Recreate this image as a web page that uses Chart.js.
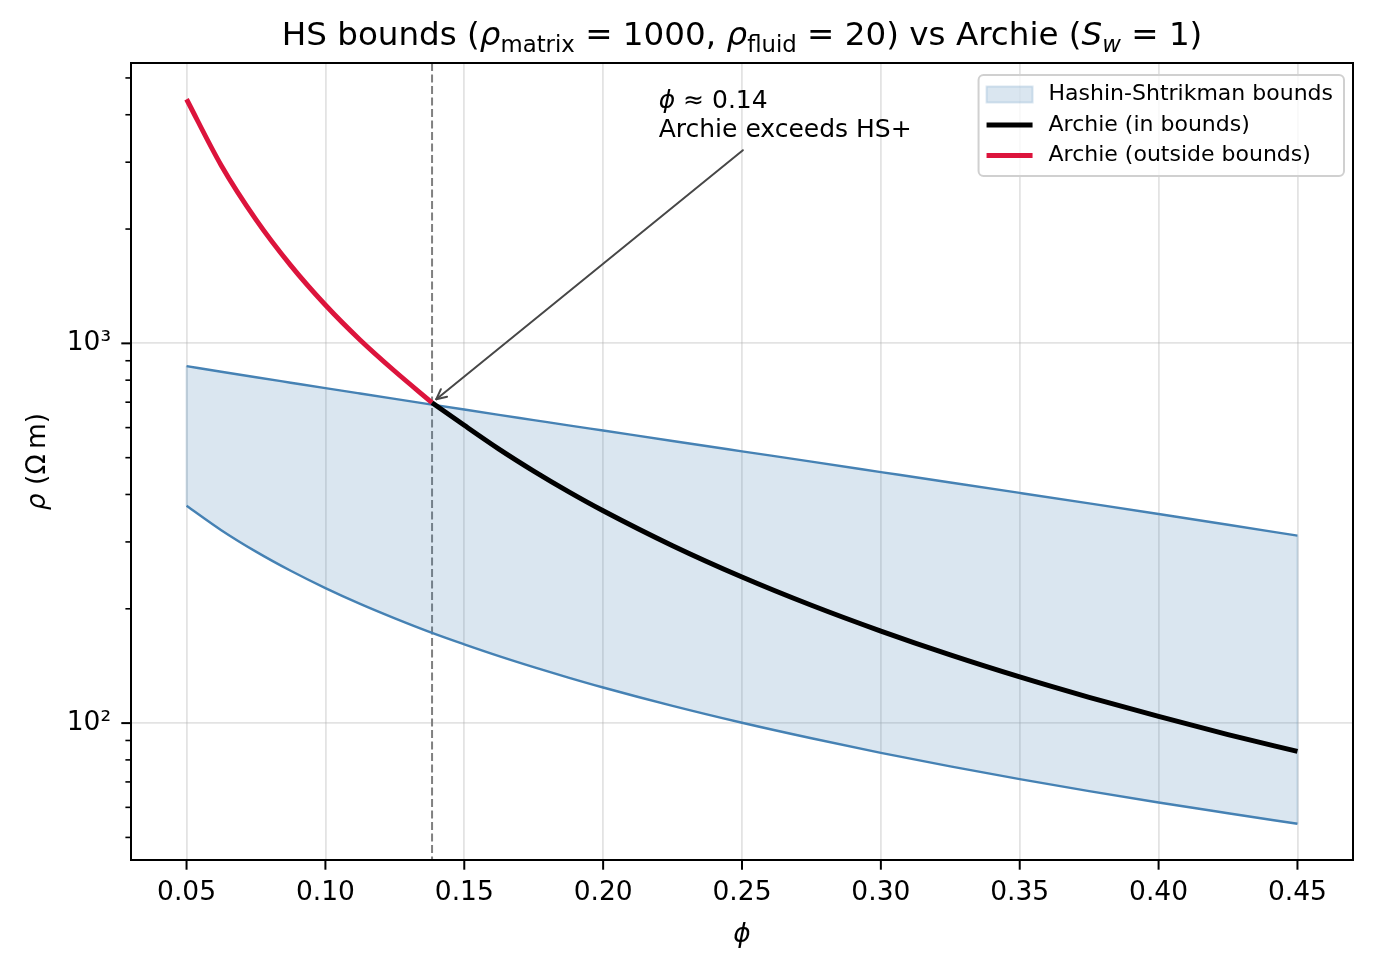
<!DOCTYPE html>
<html>
<head>
<meta charset="utf-8">
<script src="https://cdn.jsdelivr.net/npm/chart.js@4.4.1/dist/chart.umd.min.js"></script>
<style>
  html, body { margin: 0; padding: 0; background: #fff; }
  #wrap { width: 1374px; height: 971px; }
</style>
</head>
<body>
<div id="wrap"><canvas id="grafico" width="1374" height="971"></canvas></div>
<script>
// porosity grid and resistivities (ohm.m)
const phi = [0.05, 0.0625, 0.075, 0.0875, 0.1, 0.1125, 0.125, 0.1384, 0.15, 0.1625, 0.175, 0.1875, 0.2, 0.225, 0.25, 0.275, 0.3, 0.325, 0.35, 0.375, 0.4, 0.425, 0.45];
const hsUpper = [870.8, 841.9, 814.2, 787.7, 762.1, 737.6, 714.0, 689.7, 669.4, 648.3, 628.0, 608.3, 589.4, 553.3, 519.6, 488.0, 458.2, 430.2, 403.8, 378.9, 355.3, 332.9, 311.7];
const hsLower = [373.5, 322.1, 282.8, 251.8, 226.7, 206.0, 188.7, 172.8, 161.2, 150.1, 140.4, 131.8, 124.1, 111.0, 100.2, 91.2, 83.5, 76.9, 71.2, 66.2, 61.8, 57.9, 54.3];
const archie = [4394, 2941, 2118, 1605, 1262, 1021, 844.5, 698, 608.2, 526.6, 460.9, 407.0, 362.4, 293.2, 242.5, 204.3, 174.7, 151.2, 132.3, 116.9, 104.1, 93.3, 84.2];
const phiCross = 0.1384;

const xTicks = [0.05, 0.10, 0.15, 0.20, 0.25, 0.30, 0.35, 0.40, 0.45];
const yTicks = [50, 60, 70, 80, 90, 100, 200, 300, 400, 500, 600, 700, 800, 900, 1000, 2000, 3000, 4000, 5000];
const yMajor = [100, 1000];
const yMajorLabels = ['10²', '10³'];

const legendLabels = ['Hashin-Shtrikman bounds', 'Archie (in bounds)', 'Archie (outside bounds)'];
const annotationText = ['≈ 0.14', 'Archie exceeds HS+'];
const annotationAt = { phi: 0.22, rho: 3500 };

const FAMILY = "'DejaVu Sans'";
const STEEL = '#4682b4';
const FILL = 'rgba(70, 130, 180, 0.2)';
const CRIMSON = '#dc143c';
const GRID = 'rgba(176, 176, 176, 0.35)';

function fonte(size, italic) {
  return (italic ? 'italic ' : '') + size + 'px ' + FAMILY;
}

// draws pieces of text side by side (used for subscripts in the title)
function desenharTrechos(ctx, trechos, x, y, align) {
  let total = 0;
  trechos.forEach(t => {
    ctx.font = fonte(t.s, t.i);
    t.w = ctx.measureText(t.t).width;
    total += t.w;
  });
  let cx = align === 'center' ? x - total / 2 : x;
  ctx.textAlign = 'left';
  ctx.textBaseline = 'alphabetic';
  trechos.forEach(t => {
    ctx.font = fonte(t.s, t.i);
    ctx.fillText(t.t, cx, y + (t.dy || 0));
    cx += t.w;
  });
  return total;
}

function linha(ctx, x1, y1, x2, y2) {
  ctx.beginPath();
  ctx.moveTo(x1, y1);
  ctx.lineTo(x2, y2);
  ctx.stroke();
}

const pontos = (ys) => phi.map((x, i) => ({ x: x, y: ys[i] }));
const foraLimites = phi.map((x, i) => ({ x: x, y: archie[i] })).filter(p => p.x <= phiCross);
const dentroLimites = phi.map((x, i) => ({ x: x, y: archie[i] })).filter(p => p.x >= phiCross);

const extras = {
  id: 'extras',
  beforeDatasetsDraw(chart) {
    const ctx = chart.ctx;
    const area = chart.chartArea;
    const sx = chart.scales.x;
    const sy = chart.scales.y;
    ctx.save();
    // vertical edges of the filled band
    ctx.strokeStyle = FILL;
    ctx.lineWidth = 2;
    [0, phi.length - 1].forEach(i => {
      const px = sx.getPixelForValue(phi[i]);
      linha(ctx, px, sy.getPixelForValue(hsLower[i]), px, sy.getPixelForValue(hsUpper[i]));
    });
    // crossing marker
    ctx.strokeStyle = '#808080';
    ctx.lineWidth = 2;
    ctx.setLineDash([8, 3.5]);
    const xc = sx.getPixelForValue(phiCross);
    linha(ctx, xc, area.top, xc, area.bottom);
    ctx.restore();
  },
  afterDraw(chart) {
    const ctx = chart.ctx;
    const area = chart.chartArea;
    const sx = chart.scales.x;
    const sy = chart.scales.y;
    ctx.save();
    ctx.fillStyle = '#000';

    // title
    const T = 32.6, S = 22.8, D = 7.3;
    desenharTrechos(ctx, [
      { t: 'HS bounds (', s: T },
      { t: 'ρ', s: T, i: true },
      { t: 'matrix', s: S, dy: D },
      { t: ' = 1000, ', s: T },
      { t: 'ρ', s: T, i: true },
      { t: 'fluid', s: S, dy: D },
      { t: ' = 20) vs Archie (', s: T },
      { t: 'S', s: T, i: true },
      { t: 'w', s: S, i: true, dy: D },
      { t: ' = 1)', s: T }
    ], (area.left + area.right) / 2, 44.5, 'center');

    // axis labels
    desenharTrechos(ctx, [{ t: 'ϕ', s: 26.5, i: true }], (area.left + area.right) / 2, 942, 'center');
    ctx.save();
    ctx.translate(45, (area.top + area.bottom) / 2);
    ctx.rotate(-Math.PI / 2);
    desenharTrechos(ctx, [{ t: 'ρ', s: 26.5, i: true }, { t: ' (Ω\u2009m)', s: 26.5 }], 0, 0, 'center');
    ctx.restore();

    // annotation text + arrow
    const A = 25;
    const ax = sx.getPixelForValue(annotationAt.phi);
    const base2 = sy.getPixelForValue(annotationAt.rho);
    const base1 = base2 - 28.5;
    const w1 = desenharTrechos(ctx, [{ t: 'ϕ', s: A, i: true }, { t: ' ' + annotationText[0], s: A }], ax, base1, 'left');
    const w2 = desenharTrechos(ctx, [{ t: annotationText[1], s: A }], ax, base2, 'left');
    const box = { l: ax, r: ax + Math.max(w1, w2), t: base1 - 0.93 * A, b: base2 + 0.4 * A };
    const cx = (box.l + box.r) / 2, cy = (box.t + box.b) / 2;
    const tx = sx.getPixelForValue(phiCross);
    const ty = sy.getPixelForValue(dentroLimites[0].y);
    let dx = tx - cx, dy = ty - cy;
    const len = Math.hypot(dx, dy);
    dx /= len; dy /= len;
    const tEdge = Math.min(dx < 0 ? (box.l - cx) / dx : (box.r - cx) / dx, dy < 0 ? (box.t - cy) / dy : (box.b - cy) / dy);
    const x0 = cx + dx * (tEdge + 5.5), y0 = cy + dy * (tEdge + 5.5);
    const x1 = tx - dx * 5.5, y1 = ty - dy * 5.5;
    ctx.strokeStyle = '#474747';
    ctx.lineWidth = 2;
    ctx.lineCap = 'round';
    linha(ctx, x0, y0, x1, y1);
    const ang = Math.atan2(dy, dx);
    [0.46, -0.46].forEach(a => {
      linha(ctx, x1, y1, x1 - 11 * Math.cos(ang + a), y1 - 11 * Math.sin(ang + a));
    });

    // tick marks and frame
    ctx.strokeStyle = '#000';
    ctx.lineCap = 'butt';
    ctx.lineWidth = 2;
    xTicks.forEach(v => {
      const px = sx.getPixelForValue(v);
      linha(ctx, px, area.bottom, px, area.bottom + 9.7);
    });
    yTicks.forEach(v => {
      const py = sy.getPixelForValue(v);
      const maior = yMajor.includes(v);
      ctx.lineWidth = maior ? 2 : 1.6;
      linha(ctx, area.left, py, area.left - (maior ? 9.7 : 5.6), py);
    });
    ctx.lineWidth = 2;
    ctx.strokeRect(area.left, area.top, area.right - area.left, area.bottom - area.top);

    // legend
    const L = 22;
    ctx.font = fonte(L);
    const maxW = Math.max(...legendLabels.map(t => ctx.measureText(t).width));
    const lw = 8 + 46 + 16 + maxW + 11;
    const lx = area.right - 9 - lw, ly = area.top + 12, lh = 101;
    ctx.beginPath();
    ctx.roundRect(lx, ly, lw, lh, 5);
    ctx.fillStyle = 'rgba(255,255,255,0.8)';
    ctx.fill();
    ctx.strokeStyle = '#d0d0d0';
    ctx.lineWidth = 2;
    ctx.stroke();
    const estilos = [
      { tipo: 'patch' },
      { tipo: 'line', cor: chart.data.datasets[3].borderColor, w: chart.data.datasets[3].borderWidth },
      { tipo: 'line', cor: chart.data.datasets[2].borderColor, w: chart.data.datasets[2].borderWidth }
    ];
    estilos.forEach((e, i) => {
      const yc = ly + 19.5 + i * 30.5;
      const hx = lx + 8;
      if (e.tipo === 'patch') {
        ctx.fillStyle = FILL;
        ctx.fillRect(hx, yc - 8, 46, 16);
        ctx.strokeStyle = FILL;
        ctx.lineWidth = 2;
        ctx.strokeRect(hx, yc - 8, 46, 16);
      } else {
        ctx.strokeStyle = e.cor;
        ctx.lineWidth = e.w;
        linha(ctx, hx, yc, hx + 46, yc);
      }
      ctx.fillStyle = '#000';
      ctx.font = fonte(L);
      ctx.textAlign = 'left';
      ctx.textBaseline = 'middle';
      ctx.fillText(legendLabels[i], hx + 46 + 16, yc);
    });
    ctx.restore();
  }
};

Chart.defaults.font.family = FAMILY;
Chart.defaults.color = '#000';

new Chart(document.getElementById('grafico').getContext('2d'), {
  type: 'line',
  data: {
    datasets: [
      {
        label: legendLabels[0],
        data: pontos(hsUpper),
        borderColor: STEEL,
        borderWidth: 2.4,
        backgroundColor: FILL,
        fill: '+1',
        order: 2
      },
      {
        label: 'HS lower',
        data: pontos(hsLower),
        borderColor: STEEL,
        borderWidth: 2.4,
        fill: false,
        order: 3
      },
      {
        label: legendLabels[2],
        data: foraLimites,
        borderColor: CRIMSON,
        borderWidth: 4.9,
        fill: false,
        order: 1
      },
      {
        label: legendLabels[1],
        data: dentroLimites,
        borderColor: '#000',
        borderWidth: 4.9,
        fill: false,
        order: 0
      }
    ]
  },
  options: {
    responsive: false,
    animation: false,
    layout: { padding: { left: 0, right: 21, top: 63, bottom: 0 } },
    elements: {
      point: { radius: 0, hoverRadius: 0 },
      line: { cubicInterpolationMode: 'monotone', borderJoinStyle: 'round', borderCapStyle: 'butt' }
    },
    plugins: {
      legend: { display: false },
      title: { display: false },
      tooltip: { enabled: false }
    },
    scales: {
      x: {
        type: 'linear',
        min: 0.03,
        max: 0.47,
        afterBuildTicks: s => { s.ticks = xTicks.map(v => ({ value: v })); },
        afterFit: s => { s.height = 111; },
        ticks: {
          autoSkip: false,
          maxRotation: 0,
          padding: 17,
          font: { size: 26.5 },
          callback: v => v.toFixed(2)
        },
        grid: { color: GRID, lineWidth: 1.8, drawTicks: false },
        border: { display: false }
      },
      y: {
        type: 'logarithmic',
        min: 43.6,
        max: 5474,
        afterBuildTicks: s => { s.ticks = yTicks.map(v => ({ value: v })); },
        afterFit: s => { s.width = 131; },
        ticks: {
          autoSkip: false,
          padding: 20,
          font: { size: 26.5 },
          callback: v => {
            const k = yMajor.indexOf(v);
            return k >= 0 ? yMajorLabels[k] : '';
          }
        },
        grid: {
          color: c => (c.tick && yMajor.includes(c.tick.value)) ? GRID : 'rgba(0,0,0,0)',
          lineWidth: 1.8,
          drawTicks: false
        },
        border: { display: false }
      }
    }
  },
  plugins: [extras]
});
</script>
</body>
</html>
